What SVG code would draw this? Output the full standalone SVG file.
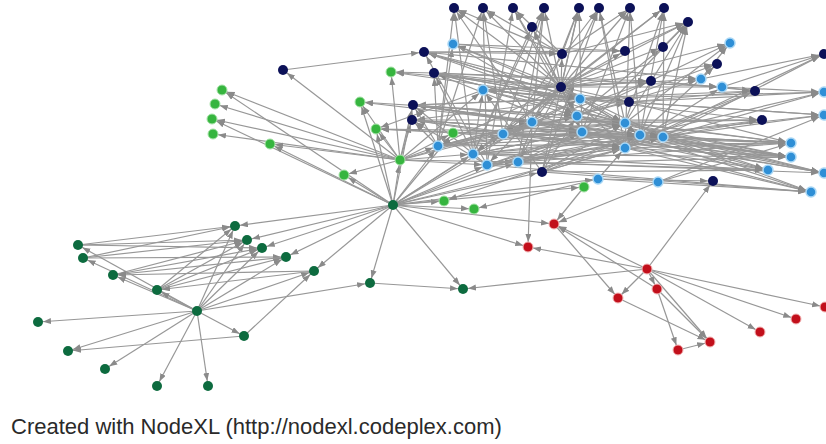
<svg xmlns="http://www.w3.org/2000/svg" width="826" height="444" viewBox="0 0 826 444">
<style>
.e line{stroke:#979797;stroke-width:1.2;marker-end:url(#ah)}
.n{fill:#0c1158}
.b{fill:#2f8fd6;stroke:#a9d7f5;stroke-width:1.5}
.g{fill:#36b53f;stroke:#a6e3a8;stroke-width:1}
.dg{fill:#0d6b3f}
.r{fill:#c20f1b;stroke:#f3b4b4;stroke-width:1}
.t{font-family:"Liberation Sans",Arial,sans-serif;font-size:22px;fill:#2a2a2a}
</style>
<defs>
<marker id="ah" markerUnits="userSpaceOnUse" markerWidth="14" markerHeight="8" refX="13" refY="3" orient="auto"><path d="M0,0 L8,3 L0,6 Z" fill="#8a8a8a"/></marker>
</defs>
<rect width="826" height="444" fill="#ffffff"/>
<g id="edges" class="e">
<line x1="393" y1="205" x2="235" y2="226"/><line x1="393" y1="205" x2="247" y2="240"/><line x1="393" y1="205" x2="262" y2="248"/><line x1="393" y1="205" x2="286" y2="257"/><line x1="393" y1="205" x2="314" y2="271"/><line x1="393" y1="205" x2="370" y2="283"/><line x1="393" y1="205" x2="463" y2="289"/><line x1="393" y1="205" x2="554" y2="224"/><line x1="393" y1="205" x2="528" y2="247"/><line x1="393" y1="205" x2="344" y2="175"/><line x1="393" y1="205" x2="444" y2="201"/><line x1="393" y1="205" x2="474" y2="209"/><line x1="393" y1="205" x2="400" y2="160"/><line x1="393" y1="205" x2="222" y2="90"/><line x1="393" y1="205" x2="212" y2="119"/><line x1="393" y1="205" x2="270" y2="144"/><line x1="393" y1="205" x2="360" y2="102"/><line x1="393" y1="205" x2="376" y2="129"/><line x1="393" y1="205" x2="413" y2="105"/><line x1="393" y1="205" x2="438" y2="146"/><line x1="393" y1="205" x2="473" y2="154"/><line x1="393" y1="205" x2="487" y2="165"/><line x1="393" y1="205" x2="503" y2="134"/><line x1="393" y1="205" x2="518" y2="162"/><line x1="393" y1="205" x2="542" y2="172"/><line x1="393" y1="205" x2="453" y2="133"/><line x1="393" y1="205" x2="584" y2="187"/><line x1="393" y1="205" x2="598" y2="179"/><line x1="393" y1="205" x2="532" y2="122"/><line x1="393" y1="205" x2="625" y2="148"/><line x1="393" y1="205" x2="582" y2="132"/>
<line x1="197" y1="311" x2="38" y2="322"/><line x1="197" y1="311" x2="244" y2="336"/><line x1="197" y1="311" x2="68" y2="351"/><line x1="197" y1="311" x2="105" y2="369"/><line x1="197" y1="311" x2="157" y2="386"/><line x1="197" y1="311" x2="208" y2="386"/><line x1="197" y1="311" x2="370" y2="283"/><line x1="197" y1="311" x2="235" y2="226"/><line x1="197" y1="311" x2="247" y2="240"/><line x1="197" y1="311" x2="262" y2="248"/><line x1="197" y1="311" x2="286" y2="257"/><line x1="197" y1="311" x2="314" y2="271"/><line x1="197" y1="311" x2="78" y2="245"/><line x1="197" y1="311" x2="83" y2="258"/><line x1="197" y1="311" x2="113" y2="275"/><line x1="197" y1="311" x2="157" y2="290"/>
<line x1="78" y1="245" x2="235" y2="226"/><line x1="78" y1="245" x2="247" y2="240"/><line x1="78" y1="245" x2="262" y2="248"/><line x1="83" y1="258" x2="235" y2="226"/><line x1="83" y1="258" x2="247" y2="240"/><line x1="83" y1="258" x2="286" y2="257"/><line x1="113" y1="275" x2="247" y2="240"/><line x1="113" y1="275" x2="262" y2="248"/><line x1="157" y1="290" x2="235" y2="226"/><line x1="157" y1="290" x2="247" y2="240"/><line x1="157" y1="290" x2="262" y2="248"/><line x1="157" y1="290" x2="286" y2="257"/><line x1="244" y1="336" x2="68" y2="351"/><line x1="244" y1="336" x2="314" y2="271"/><line x1="314" y1="271" x2="157" y2="290"/><line x1="314" y1="271" x2="113" y2="275"/><line x1="286" y1="257" x2="113" y2="275"/><line x1="370" y1="283" x2="463" y2="289"/><line x1="647" y1="269" x2="463" y2="289"/>
<line x1="400" y1="160" x2="391" y2="72"/><line x1="400" y1="160" x2="222" y2="90"/><line x1="400" y1="160" x2="215" y2="104"/><line x1="400" y1="160" x2="212" y2="119"/><line x1="400" y1="160" x2="213" y2="134"/><line x1="400" y1="160" x2="270" y2="144"/><line x1="400" y1="160" x2="360" y2="102"/><line x1="400" y1="160" x2="376" y2="129"/><line x1="400" y1="160" x2="344" y2="175"/><line x1="400" y1="160" x2="453" y2="133"/><line x1="400" y1="160" x2="283" y2="70"/><line x1="400" y1="160" x2="413" y2="105"/><line x1="400" y1="160" x2="412" y2="120"/><line x1="400" y1="160" x2="438" y2="146"/><line x1="400" y1="160" x2="473" y2="154"/><line x1="400" y1="160" x2="503" y2="134"/><line x1="400" y1="160" x2="483" y2="90"/><line x1="400" y1="160" x2="532" y2="122"/><line x1="400" y1="160" x2="518" y2="162"/><line x1="400" y1="160" x2="487" y2="165"/>
<line x1="580" y1="99" x2="391" y2="72"/><line x1="532" y1="122" x2="360" y2="102"/><line x1="503" y1="134" x2="376" y2="129"/><line x1="582" y1="132" x2="376" y2="129"/><line x1="577" y1="116" x2="360" y2="102"/><line x1="561" y1="87" x2="391" y2="72"/><line x1="483" y1="90" x2="376" y2="129"/><line x1="434" y1="73" x2="391" y2="72"/><line x1="453" y1="133" x2="376" y2="129"/><line x1="584" y1="187" x2="554" y2="224"/><line x1="658" y1="182" x2="554" y2="224"/><line x1="598" y1="179" x2="474" y2="209"/><line x1="640" y1="135" x2="444" y2="201"/><line x1="283" y1="70" x2="424" y2="52"/>
<line x1="647" y1="269" x2="554" y2="224"/><line x1="657" y1="289" x2="554" y2="224"/><line x1="647" y1="269" x2="528" y2="247"/><line x1="647" y1="269" x2="657" y2="289"/><line x1="647" y1="269" x2="618" y2="298"/><line x1="647" y1="269" x2="710" y2="342"/><line x1="647" y1="269" x2="760" y2="332"/><line x1="647" y1="269" x2="796" y2="319"/><line x1="647" y1="269" x2="825" y2="307"/><line x1="647" y1="269" x2="713" y2="181"/><line x1="554" y1="224" x2="618" y2="298"/><line x1="657" y1="289" x2="678" y2="350"/><line x1="657" y1="289" x2="710" y2="342"/><line x1="618" y1="298" x2="710" y2="342"/><line x1="678" y1="350" x2="710" y2="342"/><line x1="532" y1="122" x2="528" y2="247"/>
<line x1="561" y1="87" x2="454" y2="8"/><line x1="561" y1="87" x2="483" y2="8"/><line x1="561" y1="87" x2="513" y2="8"/><line x1="561" y1="87" x2="544" y2="8"/><line x1="561" y1="87" x2="579" y2="8"/><line x1="561" y1="87" x2="599" y2="8"/><line x1="561" y1="87" x2="630" y2="8"/><line x1="561" y1="87" x2="664" y2="8"/><line x1="561" y1="87" x2="532" y2="27"/><line x1="561" y1="87" x2="688" y2="22"/><line x1="561" y1="87" x2="562" y2="54"/><line x1="561" y1="87" x2="625" y2="51"/><line x1="561" y1="87" x2="663" y2="47"/><line x1="561" y1="87" x2="424" y2="52"/><line x1="561" y1="87" x2="434" y2="73"/><line x1="561" y1="87" x2="453" y2="44"/><line x1="561" y1="87" x2="730" y2="43"/><line x1="561" y1="87" x2="717" y2="64"/>
<line x1="562" y1="54" x2="454" y2="8"/><line x1="562" y1="54" x2="513" y2="8"/><line x1="562" y1="54" x2="579" y2="8"/><line x1="562" y1="54" x2="630" y2="8"/><line x1="562" y1="54" x2="688" y2="22"/><line x1="562" y1="54" x2="483" y2="8"/>
<line x1="503" y1="134" x2="483" y2="8"/><line x1="503" y1="134" x2="544" y2="8"/><line x1="503" y1="134" x2="599" y2="8"/><line x1="503" y1="134" x2="664" y2="8"/>
<line x1="582" y1="132" x2="513" y2="8"/><line x1="582" y1="132" x2="579" y2="8"/><line x1="582" y1="132" x2="630" y2="8"/><line x1="582" y1="132" x2="532" y2="27"/><line x1="582" y1="132" x2="688" y2="22"/>
<line x1="473" y1="154" x2="454" y2="8"/><line x1="473" y1="154" x2="544" y2="8"/><line x1="473" y1="154" x2="532" y2="27"/>
<line x1="625" y1="123" x2="599" y2="8"/><line x1="625" y1="123" x2="664" y2="8"/><line x1="625" y1="123" x2="688" y2="22"/><line x1="625" y1="123" x2="730" y2="43"/>
<line x1="577" y1="116" x2="663" y2="47"/><line x1="577" y1="116" x2="717" y2="64"/><line x1="577" y1="116" x2="730" y2="43"/><line x1="577" y1="116" x2="701" y2="79"/>
<line x1="580" y1="99" x2="424" y2="52"/><line x1="580" y1="99" x2="434" y2="73"/><line x1="580" y1="99" x2="413" y2="105"/><line x1="580" y1="99" x2="412" y2="120"/><line x1="580" y1="99" x2="453" y2="44"/><line x1="580" y1="99" x2="483" y2="90"/>
<line x1="625" y1="148" x2="717" y2="64"/><line x1="625" y1="148" x2="755" y2="91"/><line x1="625" y1="148" x2="824" y2="54"/><line x1="625" y1="148" x2="722" y2="87"/><line x1="625" y1="148" x2="824" y2="92"/>
<line x1="640" y1="135" x2="755" y2="91"/><line x1="640" y1="135" x2="762" y2="120"/><line x1="640" y1="135" x2="824" y2="92"/><line x1="640" y1="135" x2="824" y2="115"/><line x1="640" y1="135" x2="791" y2="143"/><line x1="640" y1="135" x2="791" y2="157"/><line x1="640" y1="135" x2="768" y2="170"/><line x1="640" y1="135" x2="824" y2="173"/>
<line x1="663" y1="137" x2="791" y2="143"/><line x1="663" y1="137" x2="791" y2="157"/><line x1="663" y1="137" x2="811" y2="192"/><line x1="663" y1="137" x2="762" y2="120"/><line x1="663" y1="137" x2="824" y2="115"/><line x1="663" y1="137" x2="824" y2="54"/>
<line x1="582" y1="132" x2="791" y2="143"/><line x1="582" y1="132" x2="791" y2="157"/><line x1="582" y1="132" x2="768" y2="170"/><line x1="577" y1="116" x2="824" y2="173"/><line x1="577" y1="116" x2="811" y2="192"/><line x1="518" y1="162" x2="768" y2="170"/><line x1="518" y1="162" x2="791" y2="143"/><line x1="532" y1="122" x2="791" y2="157"/><line x1="532" y1="122" x2="824" y2="173"/><line x1="532" y1="122" x2="762" y2="120"/><line x1="598" y1="179" x2="811" y2="192"/><line x1="598" y1="179" x2="713" y2="181"/><line x1="629" y1="102" x2="824" y2="92"/><line x1="629" y1="102" x2="755" y2="91"/><line x1="625" y1="148" x2="791" y2="157"/><line x1="625" y1="148" x2="811" y2="192"/>
<line x1="438" y1="146" x2="413" y2="105"/><line x1="438" y1="146" x2="412" y2="120"/><line x1="438" y1="146" x2="434" y2="73"/><line x1="438" y1="146" x2="453" y2="44"/><line x1="487" y1="165" x2="424" y2="52"/><line x1="487" y1="165" x2="413" y2="105"/><line x1="487" y1="165" x2="412" y2="120"/><line x1="473" y1="154" x2="434" y2="73"/><line x1="473" y1="154" x2="483" y2="90"/><line x1="503" y1="134" x2="438" y2="146"/><line x1="503" y1="134" x2="412" y2="120"/><line x1="532" y1="122" x2="438" y2="146"/><line x1="532" y1="122" x2="413" y2="105"/><line x1="582" y1="132" x2="413" y2="105"/><line x1="582" y1="132" x2="412" y2="120"/><line x1="582" y1="132" x2="434" y2="73"/><line x1="625" y1="123" x2="424" y2="52"/><line x1="625" y1="123" x2="434" y2="73"/><line x1="542" y1="172" x2="483" y2="90"/>
<line x1="658" y1="182" x2="791" y2="143"/><line x1="658" y1="182" x2="824" y2="115"/><line x1="701" y1="79" x2="824" y2="54"/><line x1="722" y1="87" x2="824" y2="54"/><line x1="722" y1="87" x2="755" y2="91"/><line x1="722" y1="87" x2="824" y2="92"/><line x1="701" y1="79" x2="730" y2="43"/><line x1="701" y1="79" x2="717" y2="64"/><line x1="651" y1="81" x2="755" y2="91"/><line x1="651" y1="81" x2="722" y2="87"/><line x1="625" y1="51" x2="688" y2="22"/><line x1="663" y1="47" x2="688" y2="22"/>
<line x1="580" y1="99" x2="640" y2="135"/><line x1="577" y1="116" x2="663" y2="137"/><line x1="503" y1="134" x2="625" y2="148"/><line x1="518" y1="162" x2="625" y2="123"/><line x1="487" y1="165" x2="582" y2="132"/><line x1="542" y1="172" x2="577" y2="116"/><line x1="438" y1="146" x2="532" y2="122"/><line x1="473" y1="154" x2="580" y2="99"/><line x1="424" y1="52" x2="701" y2="79"/><line x1="434" y1="73" x2="651" y2="81"/><line x1="413" y1="105" x2="755" y2="91"/><line x1="412" y1="120" x2="762" y2="120"/><line x1="438" y1="146" x2="791" y2="143"/><line x1="473" y1="154" x2="791" y2="157"/><line x1="434" y1="73" x2="722" y2="87"/><line x1="629" y1="102" x2="561" y2="87"/><line x1="651" y1="81" x2="561" y2="87"/><line x1="598" y1="179" x2="625" y2="148"/>
<line x1="561" y1="87" x2="483" y2="90"/><line x1="561" y1="87" x2="580" y2="99"/><line x1="561" y1="87" x2="577" y2="116"/><line x1="561" y1="87" x2="532" y2="122"/><line x1="561" y1="87" x2="625" y2="123"/><line x1="561" y1="87" x2="503" y2="134"/><line x1="561" y1="87" x2="582" y2="132"/><line x1="561" y1="87" x2="438" y2="146"/><line x1="561" y1="87" x2="473" y2="154"/><line x1="561" y1="87" x2="518" y2="162"/><line x1="561" y1="87" x2="487" y2="165"/><line x1="561" y1="87" x2="640" y2="135"/><line x1="561" y1="87" x2="663" y2="137"/><line x1="561" y1="87" x2="625" y2="148"/><line x1="561" y1="87" x2="701" y2="79"/><line x1="561" y1="87" x2="722" y2="87"/>
<line x1="503" y1="134" x2="625" y2="123"/><line x1="503" y1="134" x2="640" y2="135"/><line x1="503" y1="134" x2="663" y2="137"/><line x1="503" y1="134" x2="577" y2="116"/><line x1="503" y1="134" x2="580" y2="99"/><line x1="503" y1="134" x2="629" y2="102"/><line x1="503" y1="134" x2="651" y2="81"/>
<line x1="473" y1="154" x2="625" y2="123"/><line x1="473" y1="154" x2="582" y2="132"/><line x1="473" y1="154" x2="640" y2="135"/><line x1="473" y1="154" x2="625" y2="148"/><line x1="473" y1="154" x2="663" y2="137"/>
<line x1="438" y1="146" x2="582" y2="132"/><line x1="438" y1="146" x2="625" y2="123"/><line x1="438" y1="146" x2="640" y2="135"/><line x1="438" y1="146" x2="577" y2="116"/>
<line x1="487" y1="165" x2="625" y2="148"/><line x1="487" y1="165" x2="640" y2="135"/><line x1="487" y1="165" x2="625" y2="123"/><line x1="487" y1="165" x2="663" y2="137"/>
<line x1="518" y1="162" x2="640" y2="135"/><line x1="518" y1="162" x2="663" y2="137"/><line x1="518" y1="162" x2="625" y2="148"/><line x1="518" y1="162" x2="582" y2="132"/>
<line x1="542" y1="172" x2="640" y2="135"/><line x1="542" y1="172" x2="625" y2="148"/><line x1="542" y1="172" x2="663" y2="137"/><line x1="542" y1="172" x2="625" y2="123"/>
<line x1="532" y1="122" x2="625" y2="123"/><line x1="532" y1="122" x2="640" y2="135"/><line x1="532" y1="122" x2="582" y2="132"/><line x1="532" y1="122" x2="625" y2="148"/><line x1="532" y1="122" x2="663" y2="137"/>
<line x1="483" y1="90" x2="580" y2="99"/><line x1="483" y1="90" x2="577" y2="116"/><line x1="483" y1="90" x2="625" y2="123"/><line x1="483" y1="90" x2="651" y2="81"/><line x1="483" y1="90" x2="629" y2="102"/>
<line x1="434" y1="73" x2="580" y2="99"/><line x1="434" y1="73" x2="625" y2="123"/><line x1="434" y1="73" x2="629" y2="102"/><line x1="424" y1="52" x2="625" y2="51"/><line x1="424" y1="52" x2="562" y2="54"/><line x1="424" y1="52" x2="580" y2="99"/><line x1="453" y1="44" x2="562" y2="54"/><line x1="453" y1="44" x2="625" y2="51"/><line x1="453" y1="44" x2="577" y2="116"/>
<line x1="413" y1="105" x2="532" y2="122"/><line x1="413" y1="105" x2="577" y2="116"/><line x1="413" y1="105" x2="625" y2="123"/><line x1="413" y1="105" x2="640" y2="135"/><line x1="412" y1="120" x2="582" y2="132"/><line x1="412" y1="120" x2="625" y2="148"/><line x1="412" y1="120" x2="663" y2="137"/><line x1="453" y1="133" x2="625" y2="123"/><line x1="453" y1="133" x2="640" y2="135"/><line x1="453" y1="133" x2="625" y2="148"/>
<line x1="625" y1="123" x2="791" y2="143"/><line x1="625" y1="123" x2="791" y2="157"/><line x1="625" y1="123" x2="768" y2="170"/><line x1="625" y1="123" x2="824" y2="173"/><line x1="625" y1="123" x2="762" y2="120"/><line x1="625" y1="148" x2="791" y2="143"/><line x1="625" y1="148" x2="768" y2="170"/><line x1="582" y1="132" x2="824" y2="173"/><line x1="582" y1="132" x2="811" y2="192"/><line x1="580" y1="99" x2="824" y2="92"/><line x1="580" y1="99" x2="824" y2="115"/><line x1="580" y1="99" x2="762" y2="120"/><line x1="577" y1="116" x2="791" y2="143"/><line x1="577" y1="116" x2="791" y2="157"/><line x1="629" y1="102" x2="824" y2="115"/><line x1="629" y1="102" x2="791" y2="143"/><line x1="503" y1="134" x2="791" y2="143"/><line x1="503" y1="134" x2="791" y2="157"/><line x1="473" y1="154" x2="768" y2="170"/><line x1="487" y1="165" x2="791" y2="157"/><line x1="487" y1="165" x2="811" y2="192"/><line x1="518" y1="162" x2="824" y2="173"/><line x1="542" y1="172" x2="768" y2="170"/><line x1="542" y1="172" x2="811" y2="192"/>
<line x1="640" y1="135" x2="664" y2="8"/><line x1="640" y1="135" x2="688" y2="22"/><line x1="640" y1="135" x2="630" y2="8"/><line x1="663" y1="137" x2="688" y2="22"/><line x1="663" y1="137" x2="664" y2="8"/><line x1="625" y1="148" x2="630" y2="8"/><line x1="625" y1="148" x2="599" y2="8"/><line x1="518" y1="162" x2="544" y2="8"/><line x1="518" y1="162" x2="579" y2="8"/><line x1="487" y1="165" x2="483" y2="8"/><line x1="487" y1="165" x2="513" y2="8"/><line x1="542" y1="172" x2="579" y2="8"/><line x1="542" y1="172" x2="599" y2="8"/><line x1="438" y1="146" x2="454" y2="8"/><line x1="438" y1="146" x2="483" y2="8"/><line x1="532" y1="122" x2="454" y2="8"/><line x1="532" y1="122" x2="544" y2="8"/>
</g>
<g id="nodes">
<g id="dg1"><circle class="dg" cx="393" cy="205" r="5"/></g>
<g id="dg2"><circle class="dg" cx="197" cy="311" r="5"/></g>
<g id="dg3"><circle class="dg" cx="235" cy="226" r="5"/></g>
<g id="dg4"><circle class="dg" cx="247" cy="240" r="5"/></g>
<g id="dg5"><circle class="dg" cx="262" cy="248" r="5"/></g>
<g id="dg6"><circle class="dg" cx="286" cy="257" r="5"/></g>
<g id="dg7"><circle class="dg" cx="314" cy="271" r="5"/></g>
<g id="dg8"><circle class="dg" cx="78" cy="245" r="5"/></g>
<g id="dg9"><circle class="dg" cx="83" cy="258" r="5"/></g>
<g id="dg10"><circle class="dg" cx="113" cy="275" r="5"/></g>
<g id="dg11"><circle class="dg" cx="157" cy="290" r="5"/></g>
<g id="dg12"><circle class="dg" cx="38" cy="322" r="5"/></g>
<g id="dg13"><circle class="dg" cx="244" cy="336" r="5"/></g>
<g id="dg14"><circle class="dg" cx="68" cy="351" r="5"/></g>
<g id="dg15"><circle class="dg" cx="105" cy="369" r="5"/></g>
<g id="dg16"><circle class="dg" cx="157" cy="386" r="5"/></g>
<g id="dg17"><circle class="dg" cx="208" cy="386" r="5"/></g>
<g id="dg18"><circle class="dg" cx="370" cy="283" r="5"/></g>
<g id="dg19"><circle class="dg" cx="463" cy="289" r="5"/></g>
<g id="r1"><circle class="r" cx="554" cy="224" r="5"/></g>
<g id="r2"><circle class="r" cx="528" cy="247" r="5"/></g>
<g id="r3"><circle class="r" cx="647" cy="269" r="5"/></g>
<g id="r4"><circle class="r" cx="657" cy="289" r="5"/></g>
<g id="r5"><circle class="r" cx="618" cy="298" r="5"/></g>
<g id="r6"><circle class="r" cx="678" cy="350" r="5"/></g>
<g id="r7"><circle class="r" cx="710" cy="342" r="5"/></g>
<g id="r8"><circle class="r" cx="760" cy="332" r="5"/></g>
<g id="r9"><circle class="r" cx="796" cy="319" r="5"/></g>
<g id="r10"><circle class="r" cx="825" cy="307" r="5"/></g>
<g id="g1"><circle class="g" cx="400" cy="160" r="5"/></g>
<g id="g2"><circle class="g" cx="391" cy="72" r="5"/></g>
<g id="g3"><circle class="g" cx="222" cy="90" r="5"/></g>
<g id="g4"><circle class="g" cx="215" cy="104" r="5"/></g>
<g id="g5"><circle class="g" cx="212" cy="119" r="5"/></g>
<g id="g6"><circle class="g" cx="213" cy="134" r="5"/></g>
<g id="g7"><circle class="g" cx="270" cy="144" r="5"/></g>
<g id="g8"><circle class="g" cx="360" cy="102" r="5"/></g>
<g id="g9"><circle class="g" cx="376" cy="129" r="5"/></g>
<g id="g10"><circle class="g" cx="344" cy="175" r="5"/></g>
<g id="g11"><circle class="g" cx="453" cy="133" r="5"/></g>
<g id="g12"><circle class="g" cx="444" cy="201" r="5"/></g>
<g id="g13"><circle class="g" cx="474" cy="209" r="5"/></g>
<g id="g14"><circle class="g" cx="584" cy="187" r="5"/></g>
<g id="n1"><circle class="n" cx="283" cy="70" r="5"/></g>
<g id="n2"><circle class="n" cx="424" cy="52" r="5"/></g>
<g id="n3"><circle class="n" cx="434" cy="73" r="5"/></g>
<g id="n4"><circle class="n" cx="413" cy="105" r="5"/></g>
<g id="n5"><circle class="n" cx="412" cy="120" r="5"/></g>
<g id="n6"><circle class="n" cx="454" cy="8" r="5"/></g>
<g id="n7"><circle class="n" cx="483" cy="8" r="5"/></g>
<g id="n8"><circle class="n" cx="513" cy="8" r="5"/></g>
<g id="n9"><circle class="n" cx="544" cy="8" r="5"/></g>
<g id="n10"><circle class="n" cx="579" cy="8" r="5"/></g>
<g id="n11"><circle class="n" cx="599" cy="8" r="5"/></g>
<g id="n12"><circle class="n" cx="630" cy="8" r="5"/></g>
<g id="n13"><circle class="n" cx="664" cy="8" r="5"/></g>
<g id="n14"><circle class="n" cx="532" cy="27" r="5"/></g>
<g id="n15"><circle class="n" cx="688" cy="22" r="5"/></g>
<g id="n16"><circle class="n" cx="562" cy="54" r="5"/></g>
<g id="n17"><circle class="n" cx="625" cy="51" r="5"/></g>
<g id="n18"><circle class="n" cx="663" cy="47" r="5"/></g>
<g id="n19"><circle class="n" cx="717" cy="64" r="5"/></g>
<g id="n20"><circle class="n" cx="561" cy="87" r="5"/></g>
<g id="n21"><circle class="n" cx="651" cy="81" r="5"/></g>
<g id="n22"><circle class="n" cx="629" cy="102" r="5"/></g>
<g id="n23"><circle class="n" cx="755" cy="91" r="5"/></g>
<g id="n24"><circle class="n" cx="824" cy="54" r="5"/></g>
<g id="n25"><circle class="n" cx="762" cy="120" r="5"/></g>
<g id="n26"><circle class="n" cx="542" cy="172" r="5"/></g>
<g id="n27"><circle class="n" cx="713" cy="181" r="5"/></g>
<g id="b1"><circle class="b" cx="453" cy="44" r="5"/></g>
<g id="b2"><circle class="b" cx="730" cy="43" r="5"/></g>
<g id="b3"><circle class="b" cx="701" cy="79" r="5"/></g>
<g id="b4"><circle class="b" cx="722" cy="87" r="5"/></g>
<g id="b5"><circle class="b" cx="824" cy="92" r="5"/></g>
<g id="b6"><circle class="b" cx="824" cy="115" r="5"/></g>
<g id="b7"><circle class="b" cx="483" cy="90" r="5"/></g>
<g id="b8"><circle class="b" cx="580" cy="99" r="5"/></g>
<g id="b9"><circle class="b" cx="577" cy="116" r="5"/></g>
<g id="b10"><circle class="b" cx="532" cy="122" r="5"/></g>
<g id="b11"><circle class="b" cx="625" cy="123" r="5"/></g>
<g id="b12"><circle class="b" cx="503" cy="134" r="5"/></g>
<g id="b13"><circle class="b" cx="582" cy="132" r="5"/></g>
<g id="b14"><circle class="b" cx="640" cy="135" r="5"/></g>
<g id="b15"><circle class="b" cx="663" cy="137" r="5"/></g>
<g id="b16"><circle class="b" cx="438" cy="146" r="5"/></g>
<g id="b17"><circle class="b" cx="473" cy="154" r="5"/></g>
<g id="b18"><circle class="b" cx="518" cy="162" r="5"/></g>
<g id="b19"><circle class="b" cx="487" cy="165" r="5"/></g>
<g id="b20"><circle class="b" cx="625" cy="148" r="5"/></g>
<g id="b21"><circle class="b" cx="791" cy="143" r="5"/></g>
<g id="b22"><circle class="b" cx="791" cy="157" r="5"/></g>
<g id="b23"><circle class="b" cx="768" cy="170" r="5"/></g>
<g id="b24"><circle class="b" cx="824" cy="173" r="5"/></g>
<g id="b25"><circle class="b" cx="598" cy="179" r="5"/></g>
<g id="b26"><circle class="b" cx="658" cy="182" r="5"/></g>
<g id="b27"><circle class="b" cx="811" cy="192" r="5"/></g>
</g>
<text class="t" x="11" y="434">Created with NodeXL (http://nodexl.codeplex.com)</text>
</svg>
